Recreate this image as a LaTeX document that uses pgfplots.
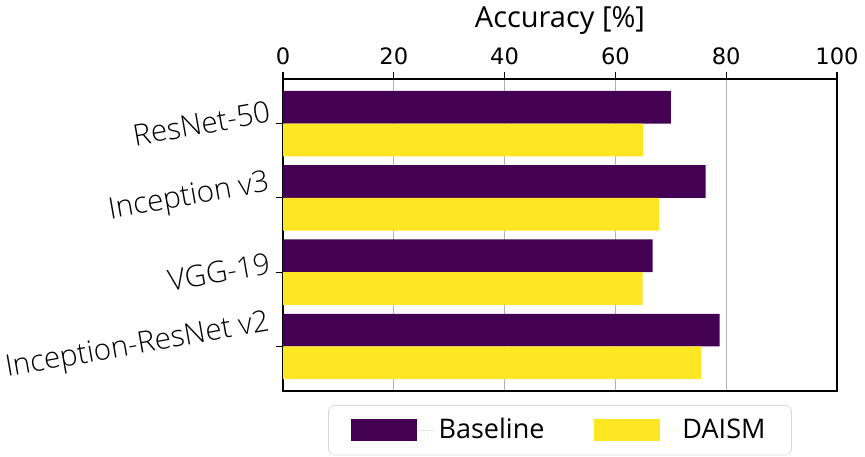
\documentclass[border=0pt]{standalone}
\usepackage{pgfplots}
\pgfplotsset{compat=1.18}
\usepackage{fontspec}
\setmainfont{Open Sans}
\newfontfamily\tickfont{DejaVu Sans}
\IfFontExistsTF{Open Sans Light}{\newfontfamily\catfont{Open Sans Light}}{%
  \IfFontExistsTF{Lato Light}{\newfontfamily\catfont{Lato Light}}{\newfontfamily\catfont{Poppins Light}}}
\definecolor{vpurple}{HTML}{440154}
\definecolor{vyellow}{HTML}{FDE725}
\begin{document}
\begin{tikzpicture}
\path[use as bounding box] (-141.5pt,-32.5pt) rectangle (291pt,195.5pt);
\begin{axis}[
  scale only axis, width=277pt, height=156pt,
  xmin=0, xmax=100, ymin=-0.6, ymax=3.6, y dir=reverse,
  bar width=0.44,
  xtick={0,20,40,60,80,100},
  xtick pos=right, xticklabel pos=right,
  ytick={0,1,2,3},
  yticklabels={{\rotatebox{10}{ResNet-50}},{\rotatebox{10}{Inception v3}},{\rotatebox{10}{VGG-19}},{\rotatebox{10}{Inception-ResNet v2}}},
  ytick pos=left,
  tick align=outside, major tick length=3.5pt,
  tick style={black, line width=0.6pt},
  axis line style={black, line width=0.65pt},
  xmajorgrids, major grid style={gray!60, line width=0.6pt},
  /pgf/number format/assume math mode=true,
  xticklabel style={font=\tickfont\fontsize{11.3}{13}\selectfont},
  yticklabel style={font=\catfont\fontsize{14.8}{16}\selectfont, anchor=east, inner sep=2pt},
  xlabel={Accuracy [\%]},
  xlabel style={font=\fontsize{14.5}{17}\selectfont, yshift=0pt},
  legend style={at={(0.5,-0.045)}, anchor=north, legend columns=2, draw=gray!30, rounded corners=3pt,
    font=\fontsize{13.5}{16}\selectfont, inner xsep=11pt, inner ysep=4.5pt,
    /tikz/every even column/.append style={column sep=23pt}},
  legend cell align=left,
]
\addplot[xbar, bar shift=-0.22, fill=vpurple, draw=none,
  legend image code/.code={\fill[vpurple, sharp corners] (0pt,-5.5pt) rectangle (33pt,5.5pt);\path (0pt,0pt) -- (42pt,0pt);}]
  coordinates {(70.0,0) (76.3,1) (66.7,2) (78.8,3)};
\addlegendentry{Baseline}
\addplot[xbar, bar shift=0.22, fill=vyellow, draw=none,
  legend image code/.code={\fill[vyellow, sharp corners] (0pt,-5.5pt) rectangle (33pt,5.5pt);\path (0pt,0pt) -- (42pt,0pt);}]
  coordinates {(65.0,0) (67.9,1) (64.9,2) (75.5,3)};
\addlegendentry{DAISM}
\end{axis}
\end{tikzpicture}
\end{document}
